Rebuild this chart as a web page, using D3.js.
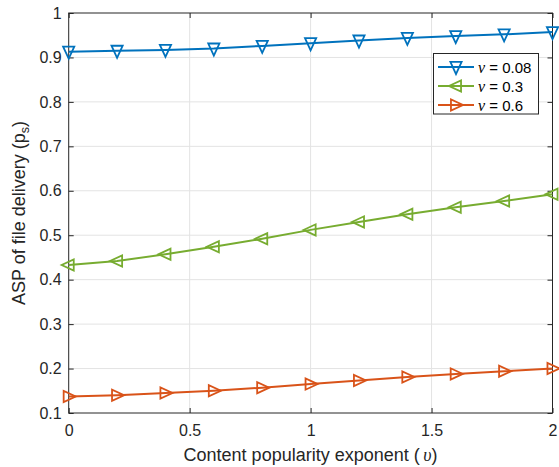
<!DOCTYPE html>
<html>
<head>
<meta charset="utf-8">
<script src="https://cdn.jsdelivr.net/npm/d3@7"></script>
<style>
  html, body { margin: 0; padding: 0; background: #fff; }
  svg { display: block; font-family: "Liberation Sans", Arial, Helvetica, sans-serif; }
</style>
</head>
<body>
<svg id="chart" width="559" height="467"></svg>
<script>
// Content popularity exponent values
const exponents = [0, 0.2, 0.4, 0.6, 0.8, 1.0, 1.2, 1.4, 1.6, 1.8, 2.0];

// ASP of file delivery for each ν
const aspNu008 = [0.913, 0.915, 0.917, 0.920, 0.926, 0.932, 0.938, 0.944, 0.948, 0.952, 0.957];
const aspNu03  = [0.433, 0.442, 0.457, 0.474, 0.492, 0.512, 0.530, 0.547, 0.563, 0.577, 0.592];
const aspNu06  = [0.137, 0.140, 0.145, 0.150, 0.157, 0.165, 0.173, 0.181, 0.188, 0.194, 0.200];

const seriesLabels = ["0.08", "0.3", "0.6"];
const seriesColors = ["#0072BD", "#77AC30", "#D95319"];
const seriesMarkers = ["down", "left", "right"];

const xTicks = [0, 0.5, 1, 1.5, 2];
const yTicks = [0.1, 0.2, 0.3, 0.4, 0.5, 0.6, 0.7, 0.8, 0.9, 1];

const series = [aspNu008, aspNu03, aspNu06].map((vals, i) => ({
  label: seriesLabels[i],
  color: seriesColors[i],
  marker: seriesMarkers[i],
  points: exponents.map((x, j) => ({ x, y: vals[j] }))
}));

const svg = d3.select("#chart");
const plot = { left: 68.7, right: 552.5, top: 13, bottom: 413 };

const x = d3.scaleLinear().domain([0, 2]).range([plot.left, plot.right]);
const y = d3.scaleLinear().domain([0.1, 1]).range([plot.bottom, plot.top]);

const axisColor = "#262626";
const gridColor = "#e3e3e3";
const tickLen = 5;

// grid
const grid = svg.append("g");
grid.selectAll(".gx").data(xTicks.slice(1, -1)).join("line")
  .attr("x1", d => x(d)).attr("x2", d => x(d))
  .attr("y1", plot.top).attr("y2", plot.bottom)
  .attr("stroke", gridColor).attr("stroke-width", 1);
grid.selectAll(".gy").data(yTicks.slice(1, -1)).join("line")
  .attr("x1", plot.left).attr("x2", plot.right)
  .attr("y1", d => y(d)).attr("y2", d => y(d))
  .attr("stroke", gridColor).attr("stroke-width", 1);

// axes with inward ticks on all four sides
function styleAxis(g) {
  g.select(".domain").remove();
  g.selectAll(".tick line").attr("stroke", axisColor).attr("stroke-width", 1);
  g.selectAll(".tick text").attr("fill", axisColor).attr("font-size", 16);
}
svg.append("g").attr("transform", `translate(0,${plot.bottom})`)
  .call(d3.axisBottom(x).tickValues(xTicks).tickFormat(d3.format("~g"))
    .tickSizeInner(-tickLen).tickPadding(12))
  .call(styleAxis);
svg.append("g").attr("transform", `translate(${plot.left},0)`)
  .call(d3.axisLeft(y).tickValues(yTicks).tickFormat(d3.format("~g"))
    .tickSizeInner(-tickLen).tickPadding(7))
  .call(styleAxis);
svg.append("g").attr("transform", `translate(0,${plot.top})`)
  .call(d3.axisTop(x).tickValues(xTicks).tickFormat("").tickSizeInner(-tickLen))
  .call(styleAxis);
svg.append("g").attr("transform", `translate(${plot.right},0)`)
  .call(d3.axisRight(y).tickValues(yTicks).tickFormat("").tickSizeInner(-tickLen))
  .call(styleAxis);

// box
svg.append("rect")
  .attr("x", plot.left).attr("y", plot.top)
  .attr("width", plot.right - plot.left).attr("height", plot.bottom - plot.top)
  .attr("fill", "none").attr("stroke", axisColor).attr("stroke-width", 1);

// triangle markers
const mk = 5.6;
function markerPath(type) {
  const s = mk, h = mk * 0.9;
  if (type === "down") return `M${-s},${-h}L${s},${-h}L0,${h + 2}Z`;
  if (type === "left") return `M${h},${-s}L${h},${s}L${-h - 2},0Z`;
  return `M${-h},${-s}L${-h},${s}L${h + 2},0Z`;
}

const line = d3.line().x(d => x(d.x)).y(d => y(d.y));
const sg = svg.append("g");
series.forEach(s => {
  sg.append("path").datum(s.points)
    .attr("d", line).attr("fill", "none")
    .attr("stroke", s.color).attr("stroke-width", 2);
  sg.selectAll(null).data(s.points).join("path")
    .attr("transform", d => `translate(${x(d.x)},${y(d.y)})`)
    .attr("d", markerPath(s.marker))
    .attr("fill", "none").attr("stroke", s.color).attr("stroke-width", 1.8)
    .attr("stroke-linejoin", "miter");
});

// legend
const lg = svg.append("g");
lg.append("rect")
  .attr("x", 433.5).attr("y", 53.5).attr("width", 105).attr("height", 60.5)
  .attr("fill", "#fff").attr("stroke", axisColor).attr("stroke-width", 1);
series.forEach((s, i) => {
  const cy = 67 + i * 19;
  lg.append("line").attr("x1", 438).attr("x2", 474).attr("y1", cy).attr("y2", cy)
    .attr("stroke", s.color).attr("stroke-width", 2);
  lg.append("path").attr("transform", `translate(456,${cy})`)
    .attr("d", markerPath(s.marker))
    .attr("fill", "none").attr("stroke", s.color).attr("stroke-width", 1.8);
  const t = lg.append("text").attr("x", 478).attr("y", cy + 5.5)
    .attr("font-size", 15).attr("fill", "#000");
  t.append("tspan").attr("font-family", "'Liberation Serif', 'DejaVu Serif', serif")
    .attr("font-style", "italic").attr("font-size", 16).text("ν");
  t.append("tspan").text(" = " + s.label);
});

// axis titles
const xt = svg.append("text")
  .attr("x", (plot.left + plot.right) / 2).attr("y", 460.5)
  .attr("text-anchor", "middle").attr("font-size", 18).attr("fill", axisColor);
xt.append("tspan").text("Content popularity exponent (\u2009");
xt.append("tspan").attr("font-family", "'Liberation Serif', 'DejaVu Serif', serif")
  .attr("font-style", "italic").text("υ");
xt.append("tspan").text(")");

const yt = svg.append("text")
  .attr("transform", `translate(25,${(plot.top + plot.bottom) / 2}) rotate(-90)`)
  .attr("text-anchor", "middle").attr("font-size", 18).attr("fill", axisColor);
yt.append("tspan").text("ASP of file delivery (p");
yt.append("tspan").attr("font-size", 12.5).attr("dy", 4).text("s");
yt.append("tspan").attr("dy", -4).text(")");
</script>
</body>
</html>
